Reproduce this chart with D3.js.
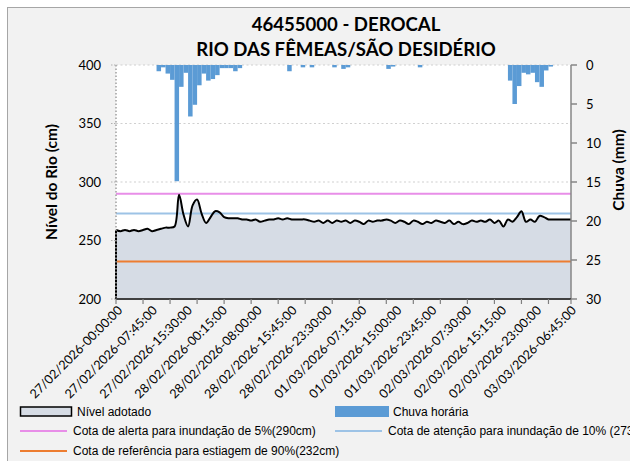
<!DOCTYPE html>
<html><head><meta charset="utf-8">
<script src="https://cdn.jsdelivr.net/npm/d3@7/dist/d3.min.js"></script>
<style>
html,body{margin:0;padding:0;background:#fff;}
svg{display:block;}
</style></head>
<body>
<svg id="c" width="630" height="461"></svg>
<script>
const titleLines = ["46455000 - DEROCAL", "RIO DAS FÊMEAS/SÃO DESIDÉRIO"];
const xLabels = ["27/02/2026-00:00:00","27/02/2026-07:45:00","27/02/2026-15:30:00","28/02/2026-00:15:00",
  "28/02/2026-08:00:00","28/02/2026-15:45:00","28/02/2026-23:30:00","01/03/2026-07:15:00",
  "01/03/2026-15:00:00","01/03/2026-23:45:00","02/03/2026-07:30:00","02/03/2026-15:15:00",
  "02/03/2026-23:00:00","03/03/2026-06:45:00"];
// hourly level (cm), one value per hour (4 categories of 15 min)
const levelHourly = [259,258,259,258,259,258,259,260,258,259,
  260,261,261,262,289,272,262,280,285,273,
  265,270,275,274,270,269,269,269,268,268,
  267,268,266,267,268,268,269,268,269,268,
  268,268,268,267,266,267,265,267,265,267,
  266,267,265,267,266,264,267,266,267,267,
  268,267,265,267,266,264,267,266,264,266,
  265,267,266,265,267,264,266,264,265,267,
  266,267,266,268,265,267,262,268,266,270,
  275,266,268,266,271,270,268,268,268,268,
  268,268];
// hourly rain (mm)
const rainHourly = [0,0,0,0,0,0,0,0,0,0.8,
  0.3,1.1,1.9,14.9,2.8,1.0,6.6,5.1,2.6,1.1,
  2.0,1.8,1.3,0.4,0.4,0.4,0.8,0.4,0,0,
  0,0,0,0,0,0,0,0,0.8,0,
  0,0.3,0,0.3,0,0,0,0,0.3,0,
  0.5,0.3,0,0,0,0,0,0,0,0,
  0.5,0.2,0,0,0,0,0,0.3,0,0,
  0,0,0,0,0,0,0,0,0,0,
  0,0,0,0,0,0,0,2.0,5.0,2.7,
  1.0,1.2,1.0,2.2,2.8,0.7,0.2,0,0,0,0];
const levelTicks = [200,250,300,350,400];
const rainTicks = [0,5,10,15,20,25,30];
const refNames = ["Cota de alerta para inundação de 5%(290cm)","Cota de atenção para inundação de 10% (273cm)","Cota de referência para estiagem de 90%(232cm)"];
const refValues = [290,273,232];
const refColors = ["#e88ee8","#9dc3e6","#ed7d31"];
const catsPerHour = 4, labelEvery = 31, tickEvery = 24;

const svg = d3.select("#c");
const W = 630, H = 461;
const L = 116, R = 571, T = 65, B = 299;
const nCats = (levelHourly.length - 1) * catsPerHour;

svg.append("rect").attr("x",0).attr("y",0).attr("width",W).attr("height",H).attr("fill","#fff");
svg.append("rect").attr("x",7.5).attr("y",7.5).attr("width",W+10).attr("height",H+10)
  .attr("fill","#f2f2f2").attr("stroke","#a6a6a6").attr("stroke-width",1);
svg.append("rect").attr("x",L).attr("y",T).attr("width",R-L).attr("height",B-T).attr("fill","#fff");

const x = d3.scaleLinear().domain([0,nCats]).range([L,R]);
const y = d3.scaleLinear().domain([200,400]).range([B,T]);
const yr = d3.scaleLinear().domain([0,30]).range([T,B]);

const font = "Lato, 'Open Sans', sans-serif";

// gridlines
svg.append("g").selectAll("line").data(levelTicks.filter(v=>v>200)).join("line")
  .attr("x1",L).attr("x2",R).attr("y1",d=>y(d)).attr("y2",d=>y(d))
  .attr("stroke","#d0d0d0").attr("stroke-width",1.2).attr("stroke-dasharray","2,2.5");

// level area
const pts = levelHourly.map((v,i)=>[i*catsPerHour, v]);
const area = d3.area().x(d=>x(d[0])).y0(y(200)).y1(d=>y(d[1])).curve(d3.curveCatmullRom.alpha(0.5));
svg.append("path").datum(pts).attr("d",area).attr("fill","#d6dce5");

// reference lines
refValues.forEach((v,i)=>{
  svg.append("line").attr("x1",L).attr("x2",R).attr("y1",y(v)).attr("y2",y(v))
    .attr("stroke",refColors[i]).attr("stroke-width",2);
});

// level line
const line = d3.line().x(d=>x(d[0])).y(d=>y(d[1])).curve(d3.curveCatmullRom.alpha(0.5));
svg.append("path").datum(pts).attr("d",line).attr("fill","none").attr("stroke","#000").attr("stroke-width",2);
svg.append("line").attr("x1",L).attr("x2",L).attr("y1",y(levelHourly[0])).attr("y2",B).attr("stroke","#000").attr("stroke-width",2);

// rain bars
const bw = x(catsPerHour) - x(0);
svg.append("g").selectAll("rect").data(rainHourly.map((v,i)=>({i,v})).filter(d=>d.v>0)).join("rect")
  .attr("x",d=>x(d.i*catsPerHour)).attr("y",yr(0)).attr("width",bw).attr("height",d=>yr(d.v)-yr(0))
  .attr("fill","#5b9bd5");

// left axis (dotted)
svg.append("line").attr("x1",L).attr("x2",L).attr("y1",T).attr("y2",B)
  .attr("stroke","#a0a0a0").attr("stroke-width",1.5).attr("stroke-dasharray","1.5,2");
svg.append("g").selectAll("line").data(levelTicks).join("line")
  .attr("x1",L-5).attr("x2",L).attr("y1",d=>y(d)).attr("y2",d=>y(d))
  .attr("stroke","#b0b0b0").attr("stroke-width",1).attr("stroke-dasharray","1.5,1.5");
svg.append("g").selectAll("text").data(levelTicks).join("text")
  .attr("x",L-15).attr("y",d=>y(d)).attr("dy","0.35em").attr("text-anchor","end")
  .attr("font-family",font).attr("font-size",13).attr("fill","#000").text(d=>d);

// right axis
svg.append("line").attr("x1",R).attr("x2",R).attr("y1",T).attr("y2",B).attr("stroke","#868686").attr("stroke-width",1.5);
svg.append("g").selectAll("line").data(rainTicks).join("line")
  .attr("x1",R).attr("x2",R+6).attr("y1",d=>yr(d)).attr("y2",d=>yr(d)).attr("stroke","#868686").attr("stroke-width",1.5);
svg.append("g").selectAll("text").data(rainTicks).join("text")
  .attr("x",R+15).attr("y",d=>yr(d)).attr("dy","0.35em").attr("text-anchor","start")
  .attr("font-family",font).attr("font-size",13).attr("fill","#000").text(d=>d);

// bottom axis
svg.append("line").attr("x1",L).attr("x2",R).attr("y1",B).attr("y2",B).attr("stroke","#404040").attr("stroke-width",2);
const tickIdx = d3.range(0, nCats, tickEvery).concat([nCats]);
svg.append("g").selectAll("line").data(tickIdx).join("line")
  .attr("x1",d=>x(d)).attr("x2",d=>x(d)).attr("y1",B).attr("y2",B+5).attr("stroke","#808080").attr("stroke-width",1.2);
svg.append("g").selectAll("text").data(xLabels).join("text")
  .attr("transform",(d,i)=>`translate(${x(i*labelEvery)+4},${B+9}) rotate(-45)`)
  .attr("text-anchor","end").attr("dy","0.35em")
  .attr("font-family",font).attr("font-size",12.6).attr("fill","#000").text(d=>d);

// titles
svg.append("text").attr("x",346).attr("y",31).attr("text-anchor","middle")
  .attr("font-family",font).attr("font-weight","bold").attr("font-size",18.6).text(titleLines[0]);
svg.append("text").attr("x",346).attr("y",56).attr("text-anchor","middle")
  .attr("font-family",font).attr("font-weight","bold").attr("font-size",18.6).text(titleLines[1]);
svg.append("text").attr("transform",`translate(57,${(T+B)/2}) rotate(-90)`).attr("text-anchor","middle")
  .attr("font-family",font).attr("font-weight","bold").attr("font-size",15.5).text("Nível do Rio (cm)");
svg.append("text").attr("transform",`translate(624,170) rotate(-90)`).attr("text-anchor","middle")
  .attr("font-family",font).attr("font-weight","bold").attr("font-size",15.5).text("Chuva (mm)");

// legend
const lf = "'Liberation Sans', Arial, sans-serif";
const lfs = 12;
const lg = svg.append("g");
lg.append("rect").attr("x",20.5).attr("y",407).attr("width",51).attr("height",9).attr("fill","#d6dce5").attr("stroke","#000").attr("stroke-width",1.5);
lg.append("text").attr("x",77).attr("y",416).attr("font-family",lf).attr("font-size",lfs).text("Nível adotado");
lg.append("rect").attr("x",335).attr("y",406).attr("width",54).attr("height",11).attr("fill","#5b9bd5");
lg.append("text").attr("x",393).attr("y",416).attr("font-family",lf).attr("font-size",lfs).text("Chuva horária");
const legPos = [[20,431],[335,431],[20,451]];
refNames.forEach((n,i)=>{
  const [lx,ly] = legPos[i];
  lg.append("line").attr("x1",lx).attr("x2",lx+47).attr("y1",ly).attr("y2",ly).attr("stroke",refColors[i]).attr("stroke-width",2);
  lg.append("text").attr("x",lx+53).attr("y",ly+4).attr("font-family",lf).attr("font-size",lfs).text(n);
});
</script>
</body></html>
